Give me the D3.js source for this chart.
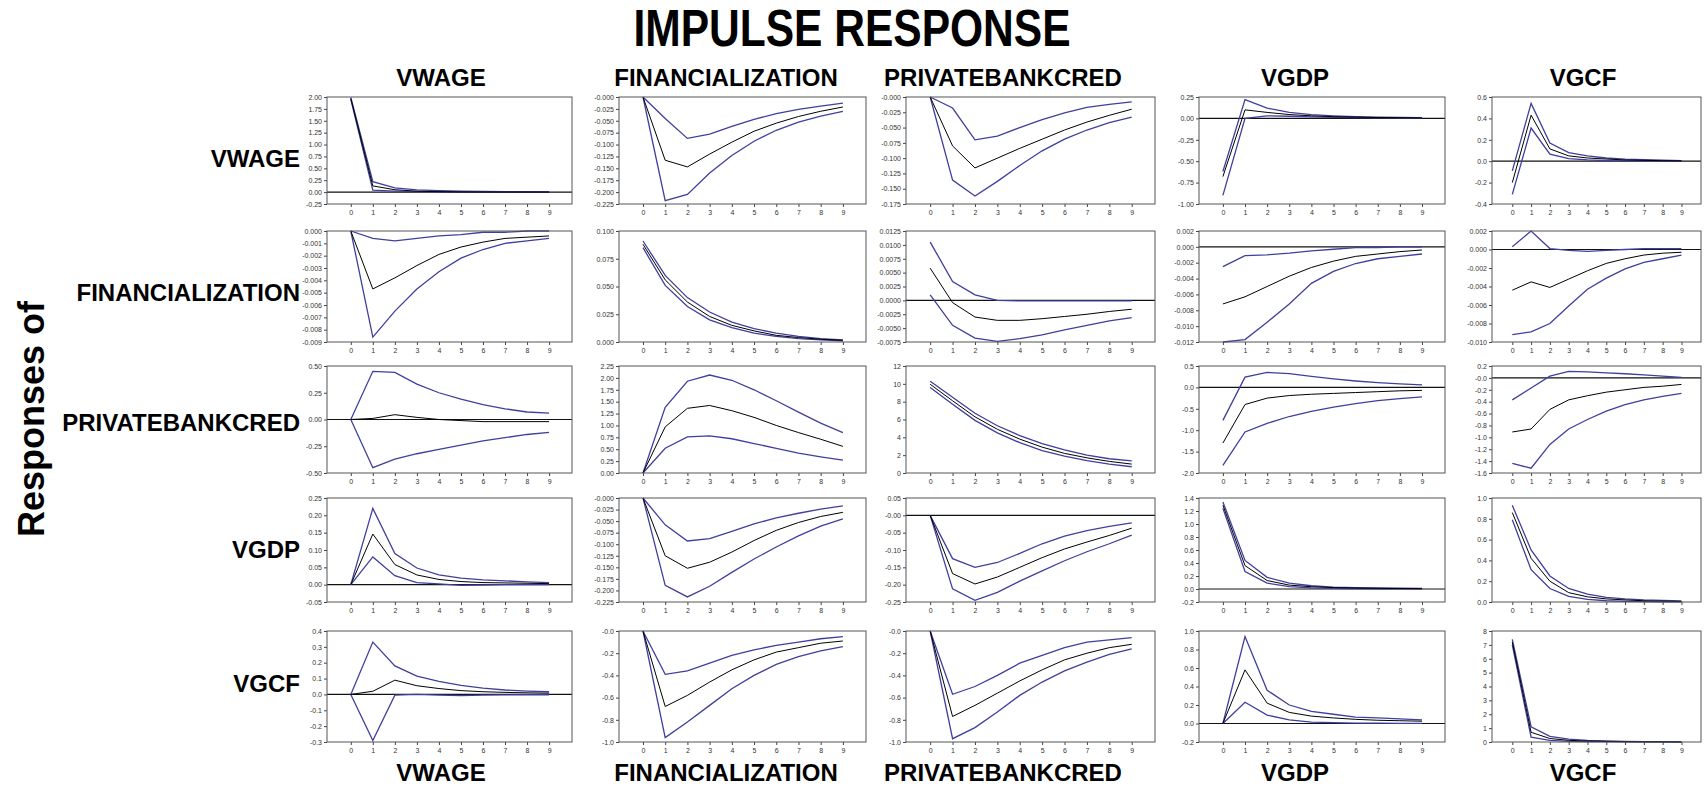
<!DOCTYPE html>
<html><head><meta charset="utf-8">
<script src="https://cdn.jsdelivr.net/npm/d3@7"></script>
<style>body{margin:0;background:#fff}svg{display:block}</style>
</head><body><svg id="c" width="1706" height="791"></svg>
<script>
// ---------- DATA ----------
const variables = ["VWAGE","FINANCIALIZATION","PRIVATEBANKCRED","VGDP","VGCF"];
const horizons = [0,1,2,3,4,5,6,7,8,9];
const titleText = "IMPULSE RESPONSE";
const sideLabel = "Responses of";

// y tick labels, one list per response row, one sub-list per shock column
const ticksVWAGE = [
  ["2.00","1.75","1.50","1.25","1.00","0.75","0.50","0.25","0.00","-0.25"],
  ["-0.000","-0.025","-0.050","-0.075","-0.100","-0.125","-0.150","-0.175","-0.200","-0.225"],
  ["-0.000","-0.025","-0.050","-0.075","-0.100","-0.125","-0.150","-0.175"],
  ["0.25","0.00","-0.25","-0.50","-0.75","-1.00"],
  ["0.6","0.4","0.2","0.0","-0.2","-0.4"]];
const ticksFIN = [
  ["0.000","-0.001","-0.002","-0.003","-0.004","-0.005","-0.006","-0.007","-0.008","-0.009"],
  ["0.100","0.075","0.050","0.025","0.000"],
  ["0.0125","0.0100","0.0075","0.0050","0.0025","0.0000","-0.0025","-0.0050","-0.0075"],
  ["0.002","0.000","-0.002","-0.004","-0.006","-0.008","-0.010","-0.012"],
  ["0.002","0.000","-0.002","-0.004","-0.006","-0.008","-0.010"]];
const ticksPBC = [
  ["0.50","0.25","0.00","-0.25","-0.50"],
  ["2.25","2.00","1.75","1.50","1.25","1.00","0.75","0.50","0.25","0.00"],
  ["12","10","8","6","4","2","0"],
  ["0.5","0.0","-0.5","-1.0","-1.5","-2.0"],
  ["0.2","-0.0","-0.2","-0.4","-0.6","-0.8","-1.0","-1.2","-1.4","-1.6"]];
const ticksVGDP = [
  ["0.25","0.20","0.15","0.10","0.05","0.00","-0.05"],
  ["-0.000","-0.025","-0.050","-0.075","-0.100","-0.125","-0.150","-0.175","-0.200","-0.225"],
  ["0.05","-0.00","-0.05","-0.10","-0.15","-0.20","-0.25"],
  ["1.4","1.2","1.0","0.8","0.6","0.4","0.2","0.0","-0.2"],
  ["1.0","0.8","0.6","0.4","0.2","0.0"]];
const ticksVGCF = [
  ["0.4","0.3","0.2","0.1","0.0","-0.1","-0.2","-0.3"],
  ["-0.0","-0.2","-0.4","-0.6","-0.8","-1.0"],
  ["-0.0","-0.2","-0.4","-0.6","-0.8","-1.0"],
  ["1.0","0.8","0.6","0.4","0.2","0.0","-0.2"],
  ["8","7","6","5","4","3","2","1","0"]];

// Responses of VWAGE (to shocks in column order)
const midVWAGE = [
  [1.97,0.13,0.05,0.02,0.01,0.005,0.003,0.002,0.001,0.001],
  [0,-0.133,-0.147,-0.12,-0.095,-0.072,-0.055,-0.041,-0.03,-0.021],
  [0,-0.08,-0.116,-0.1,-0.084,-0.069,-0.054,-0.041,-0.03,-0.02],
  [-0.68,0.1,0.07,0.045,0.03,0.02,0.015,0.01,0.008,0.005],
  [-0.2,0.43,0.115,0.05,0.03,0.02,0.012,0.008,0.005,0.003]];
const hiVWAGE = [
  [1.99,0.22,0.09,0.045,0.03,0.02,0.015,0.01,0.008,0.006],
  [0,-0.045,-0.087,-0.078,-0.062,-0.047,-0.035,-0.026,-0.019,-0.013],
  [0,-0.018,-0.07,-0.064,-0.05,-0.037,-0.026,-0.017,-0.012,-0.008],
  [-0.62,0.22,0.12,0.07,0.045,0.03,0.02,0.015,0.012,0.008],
  [-0.09,0.54,0.17,0.08,0.05,0.03,0.02,0.015,0.01,0.006]];
const loVWAGE = [
  [1.95,0.04,0.02,0.01,0.005,0.002,0.001,0,0,0],
  [0,-0.218,-0.205,-0.16,-0.123,-0.093,-0.07,-0.053,-0.04,-0.03],
  [0,-0.136,-0.162,-0.138,-0.112,-0.088,-0.069,-0.054,-0.042,-0.033],
  [-0.9,0,0.03,0.025,0.018,0.012,0.008,0.005,0.003,0.002],
  [-0.31,0.31,0.065,0.025,0.012,0.006,0.003,0.002,0.001,0]];

// Responses of FINANCIALIZATION
const midFIN = [
  [0,-0.0047,-0.0038,-0.0028,-0.0019,-0.0013,-0.0009,-0.0006,-0.0005,-0.0004],
  [0.088,0.056,0.036,0.023,0.015,0.01,0.006,0.004,0.0025,0.0015],
  [0.0058,-0.0004,-0.003,-0.0036,-0.0036,-0.0033,-0.0029,-0.0025,-0.002,-0.0016],
  [-0.0072,-0.0063,-0.005,-0.0037,-0.0026,-0.0018,-0.0012,-0.0009,-0.0006,-0.0004],
  [-0.0044,-0.0035,-0.0041,-0.0032,-0.0023,-0.0015,-0.001,-0.0006,-0.0004,-0.0003]];
const hiFIN = [
  [0,-0.0006,-0.0008,-0.0006,-0.0004,-0.0003,-0.0001,-0.0001,0,0],
  [0.091,0.06,0.04,0.027,0.018,0.012,0.008,0.005,0.003,0.002],
  [0.0105,0.0034,0.001,0,-0.0001,-0.0001,-0.0001,-0.0001,-0.0001,-0.0001],
  [-0.0025,-0.0011,-0.001,-0.0008,-0.0005,-0.0003,-0.0001,-0.0001,0,0],
  [0.0003,0.002,0.0001,-0.0001,-0.0002,-0.0001,0,0.0001,0.0001,0.0001]];
const loFIN = [
  [0,-0.0086,-0.0065,-0.0047,-0.0033,-0.0022,-0.0015,-0.001,-0.0008,-0.0006],
  [0.085,0.051,0.032,0.02,0.013,0.008,0.005,0.003,0.002,0.001],
  [0.001,-0.0045,-0.0068,-0.0074,-0.0069,-0.0062,-0.0053,-0.0045,-0.0037,-0.0031],
  [-0.012,-0.0117,-0.0095,-0.0072,-0.0046,-0.0031,-0.0021,-0.0015,-0.0012,-0.0009],
  [-0.0092,-0.0089,-0.008,-0.0061,-0.0043,-0.0031,-0.0021,-0.0014,-0.001,-0.0006]];

// Responses of PRIVATEBANKCRED
const midPBC = [
  [0,0.01,0.045,0.02,0,-0.01,-0.02,-0.02,-0.02,-0.02],
  [0,0.97,1.36,1.42,1.31,1.17,1.0,0.85,0.71,0.56],
  [9.95,8.1,6.3,4.9,3.8,2.9,2.2,1.7,1.3,1.0],
  [-1.3,-0.4,-0.25,-0.19,-0.16,-0.14,-0.12,-0.1,-0.08,-0.07],
  [-0.91,-0.86,-0.53,-0.37,-0.3,-0.24,-0.2,-0.16,-0.14,-0.11]];
const hiPBC = [
  [0,0.45,0.44,0.33,0.25,0.19,0.14,0.1,0.07,0.06],
  [0,1.38,1.93,2.06,1.95,1.75,1.52,1.28,1.05,0.85],
  [10.3,8.5,6.7,5.3,4.2,3.3,2.6,2.0,1.6,1.35],
  [-0.77,0.24,0.35,0.32,0.26,0.2,0.15,0.11,0.08,0.06],
  [-0.37,-0.17,0.03,0.11,0.1,0.085,0.07,0.05,0.03,0.01]];
const loPBC = [
  [0,-0.45,-0.37,-0.32,-0.28,-0.24,-0.2,-0.17,-0.14,-0.12],
  [0,0.52,0.76,0.78,0.72,0.62,0.52,0.42,0.34,0.27],
  [9.6,7.7,5.9,4.5,3.4,2.5,1.9,1.4,1.0,0.7],
  [-1.82,-1.04,-0.84,-0.68,-0.56,-0.46,-0.38,-0.31,-0.26,-0.22],
  [-1.44,-1.52,-1.12,-0.86,-0.7,-0.56,-0.45,-0.37,-0.31,-0.26]];

// Responses of VGDP
const midVGDP = [
  [0,0.146,0.058,0.028,0.015,0.009,0.006,0.005,0.004,0.003],
  [0,-0.125,-0.152,-0.139,-0.117,-0.092,-0.07,-0.053,-0.04,-0.031],
  [0,-0.168,-0.198,-0.178,-0.15,-0.122,-0.097,-0.077,-0.058,-0.037],
  [1.29,0.36,0.13,0.06,0.035,0.022,0.015,0.01,0.007,0.005],
  [0.86,0.42,0.2,0.09,0.05,0.03,0.02,0.012,0.008,0.005]];
const hiVGDP = [
  [0,0.22,0.09,0.048,0.028,0.019,0.014,0.011,0.008,0.006],
  [0,-0.058,-0.093,-0.088,-0.072,-0.056,-0.043,-0.033,-0.024,-0.017],
  [0,-0.125,-0.15,-0.136,-0.11,-0.082,-0.06,-0.044,-0.032,-0.022],
  [1.34,0.44,0.18,0.09,0.05,0.03,0.022,0.016,0.012,0.01],
  [0.93,0.5,0.25,0.13,0.075,0.045,0.03,0.02,0.015,0.01]];
const loVGDP = [
  [0,0.08,0.026,0.006,0.002,-0.002,-0.001,0,0,0],
  [0,-0.189,-0.214,-0.191,-0.161,-0.132,-0.106,-0.082,-0.061,-0.045],
  [0,-0.212,-0.245,-0.222,-0.19,-0.16,-0.131,-0.105,-0.082,-0.057],
  [1.24,0.27,0.09,0.035,0.018,0.01,0.006,0.004,0.002,0.001],
  [0.79,0.31,0.13,0.055,0.025,0.012,0.006,0.003,0.002,0.001]];

// Responses of VGCF
const midVGCF = [
  [0,0.02,0.09,0.055,0.037,0.024,0.017,0.013,0.01,0.008],
  [0,-0.68,-0.58,-0.46,-0.35,-0.26,-0.19,-0.15,-0.11,-0.09],
  [0,-0.77,-0.67,-0.56,-0.45,-0.35,-0.26,-0.2,-0.15,-0.12],
  [0,0.58,0.22,0.12,0.08,0.06,0.045,0.035,0.03,0.025],
  [7.2,0.7,0.25,0.12,0.07,0.04,0.025,0.015,0.01,0.006]];
const hiVGCF = [
  [0,0.33,0.18,0.115,0.083,0.057,0.04,0.028,0.021,0.017],
  [0,-0.39,-0.36,-0.29,-0.22,-0.17,-0.13,-0.1,-0.07,-0.05],
  [0,-0.57,-0.5,-0.4,-0.29,-0.22,-0.15,-0.1,-0.08,-0.06],
  [0,0.94,0.36,0.2,0.13,0.1,0.07,0.06,0.05,0.04],
  [7.4,1.1,0.4,0.2,0.12,0.08,0.05,0.03,0.02,0.015]];
const loVGCF = [
  [0,-0.29,-0.005,0,-0.005,-0.008,-0.005,-0.003,-0.002,-0.002],
  [0,-0.96,-0.82,-0.67,-0.52,-0.4,-0.3,-0.23,-0.18,-0.14],
  [0,-0.97,-0.87,-0.73,-0.58,-0.46,-0.36,-0.28,-0.21,-0.16],
  [0,0.23,0.09,0.04,0.015,0.01,0.005,0.003,0.002,0.001],
  [7.0,0.35,0.12,0.05,0.03,0.02,0.012,0.008,0.005,0.003]];

// ---------- LAYOUT ----------
const rowsTicks = [ticksVWAGE, ticksFIN, ticksPBC, ticksVGDP, ticksVGCF];
const rowsMid = [midVWAGE, midFIN, midPBC, midVGDP, midVGCF];
const rowsHi = [hiVWAGE, hiFIN, hiPBC, hiVGDP, hiVGCF];
const rowsLo = [loVWAGE, loFIN, loPBC, loVGDP, loVGCF];

const colLeft = [327, 619, 906, 1199, 1492];
const colWidth = [245, 247, 249, 246, 209];
const headerX = [441, 726, 1003, 1295, 1583];
const rowTop = [97, 231, 366, 498, 631];
const rowH = [107, 111, 107, 104, 111];
const rowLabelY = [158, 292, 422, 549, 683];
const FONT = "'Liberation Sans', Arial, sans-serif";
const BAND = "#3f3f9e";

const svg = d3.select("#c");

svg.append("text").attr("x", 852).attr("y", 46).attr("text-anchor","middle")
  .attr("font-family", FONT).attr("font-weight","bold").attr("font-size", 51)
  .attr("textLength", 437).attr("lengthAdjust","spacingAndGlyphs")
  .text(titleText);

svg.append("text").attr("transform","translate(44,419) rotate(-90)")
  .attr("text-anchor","middle").attr("font-family", FONT).attr("font-weight","bold")
  .attr("font-size", 36).text(sideLabel);

variables.forEach((v, i) => {
  [86, 781].forEach(yy => {
    svg.append("text").attr("x", headerX[i]).attr("y", yy).attr("text-anchor","middle")
      .attr("font-family", FONT).attr("font-weight","bold").attr("font-size", 24)
      .text(v);
  });
  svg.append("text").attr("x", 300).attr("y", rowLabelY[i] + 8.5)
    .attr("text-anchor","end").attr("font-family", FONT).attr("font-weight","bold")
    .attr("font-size", 24).text(v);
});

for (let r = 0; r < 5; r++) {
  for (let c = 0; c < 5; c++) {
    const w = colWidth[c], h = rowH[r];
    const g = svg.append("g").attr("transform", `translate(${colLeft[c]},${rowTop[r]})`);
    const labels = rowsTicks[r][c];
    const vals = labels.map(Number);
    const y = d3.scaleLinear().domain(d3.extent(vals)).range([h, 0]);
    const x = d3.scaleLinear().domain([-1.08, 10.04]).range([0, w]);

    const [y0, y1] = y.domain();
    if (y0 < 0 && y1 > 0) {
      g.append("line").attr("x1", 0).attr("x2", w).attr("y1", y(0)).attr("y2", y(0))
        .attr("stroke", "#111").attr("stroke-width", 1.2);
    }

    const ya = g.append("g").call(d3.axisLeft(y).tickValues(vals)
      .tickFormat((d, i) => labels[i]).tickSize(3).tickPadding(2));
    const xa = g.append("g").attr("transform", `translate(0,${h})`)
      .call(d3.axisBottom(x).tickValues(horizons).tickSize(3).tickPadding(3));
    [ya, xa].forEach(a => {
      a.select(".domain").remove();
      a.selectAll("line").attr("stroke", "#444");
      a.selectAll("text").attr("font-family", FONT).attr("font-size", 7).attr("fill", "#333");
    });

    const line = d3.line().x((d, i) => x(horizons[i])).y(d => y(d));
    [rowsHi[r][c], rowsLo[r][c]].forEach(arr => {
      g.append("path").datum(arr).attr("d", line).attr("fill", "none")
        .attr("stroke", BAND).attr("stroke-width", 1.3);
    });
    g.append("path").datum(rowsMid[r][c]).attr("d", line).attr("fill", "none")
      .attr("stroke", "#000").attr("stroke-width", 1);

    g.append("rect").attr("width", w).attr("height", h).attr("fill", "none")
      .attr("stroke", "#555").attr("stroke-width", 1);
  }
}
</script></body></html>
